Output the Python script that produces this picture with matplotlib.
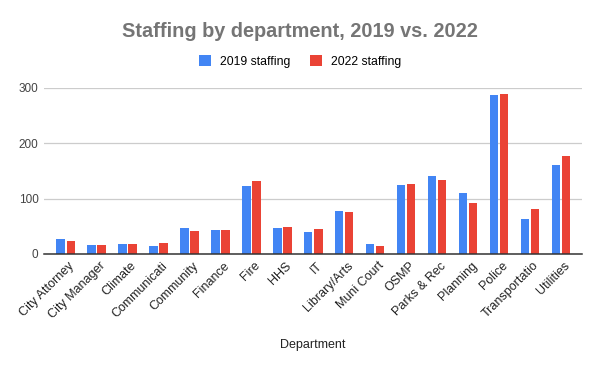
import matplotlib; matplotlib.use('Agg'); import matplotlib.pyplot as plt
import matplotlib.transforms as mtrans
import numpy as np
plt.rcParams.update({'font.family': ['Liberation Sans', 'DejaVu Sans']})

departments = ['City Attorney', 'City Manager', 'Climate', 'Communicati', 'Community', 'Finance',
               'Fire', 'HHS', 'IT', 'Library/Arts', 'Muni Court', 'OSMP', 'Parks & Rec',
               'Planning', 'Police', 'Transportatio', 'Utilities']
staff_2019 = [27, 16, 18, 14.5, 47, 43.5, 123, 47, 40, 78, 18, 125, 141, 110, 288, 63, 161]
staff_2022 = [23.5, 16, 18, 20, 41.5, 43.5, 132, 49, 45, 76, 14.5, 127, 134, 92, 290, 81, 177]
yticks = [0, 100, 200, 300]

BLUE = '#4285F4'; RED = '#EA4335'; GRID = '#cccccc'; TXT = '#444444'

fig = plt.figure(figsize=(6, 3.71), dpi=100)
ax = fig.add_axes([44/600, 1-254/371, 538/600, 166/371])
x = np.arange(len(departments))
w = 0.27; off = 0.1625
ax.bar(x - off, staff_2019, w, color=BLUE, label='2019 staffing', zorder=3)
ax.bar(x + off, staff_2022, w, color=RED, label='2022 staffing', zorder=3)

ax.set_xlim(-0.70, len(departments) - 0.32)
ax.set_ylim(0, 300)
ax.set_yticks(yticks)
ax.set_yticklabels([str(v) for v in yticks], fontsize=8.5, color=TXT)
ax.grid(axis='y', color=GRID, lw=0.9, zorder=0)
for s in ['top', 'right', 'left']:
    ax.spines[s].set_visible(False)
ax.spines['bottom'].set_color('#333333'); ax.spines['bottom'].set_linewidth(1.1)
ax.spines['bottom'].set_zorder(4)
ax.tick_params(axis='y', length=0, pad=4)
ax.tick_params(axis='x', length=0, pad=0)
ax.set_xticks(x)
ax.set_xticklabels(departments, rotation=45, ha='right', va='center', rotation_mode='anchor',
                   fontsize=9, color='#222222')
shift = mtrans.ScaledTranslation(7/100, -10/100, fig.dpi_scale_trans)
for lab in ax.get_xticklabels():
    lab.set_transform(lab.get_transform() + shift)

fig.text(313/600, 1-345/371, 'Department', ha='center', va='center', fontsize=9, color='#222222')
fig.text(0.5, 0.915, 'Staffing by department, 2019 vs. 2022', ha='center', va='center',
         fontsize=14.3, fontweight='bold', color='#757575')
fig.legend(loc='center', bbox_to_anchor=(0.5, 0.835), ncol=2, frameon=False, fontsize=8.8,
           handlelength=1.0, handleheight=1.0, handletextpad=0.7, columnspacing=1.6)

fig.savefig('out.png', dpi=100, facecolor='white')
